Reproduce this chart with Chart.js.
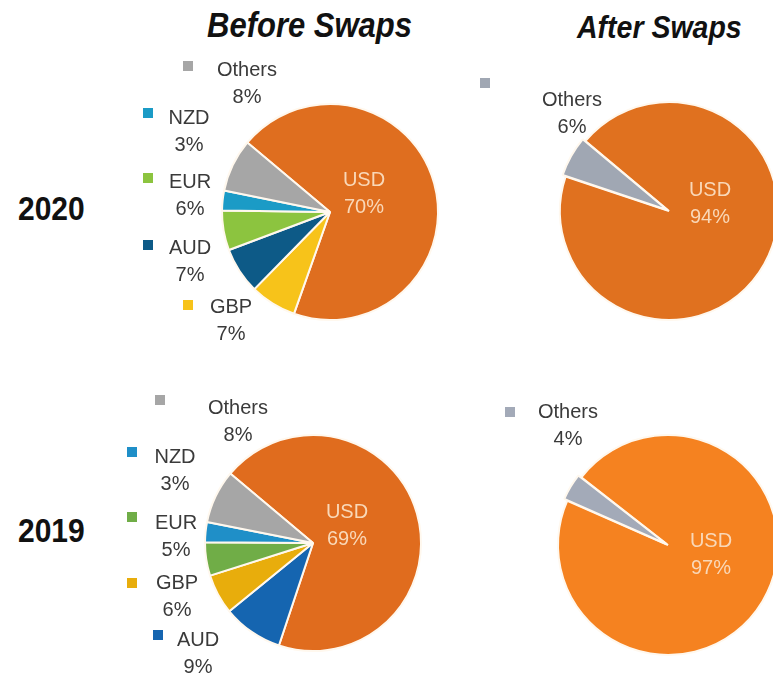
<!DOCTYPE html>
<html>
<head>
<meta charset="utf-8">
<script src="https://cdn.jsdelivr.net/npm/chart.js@4/dist/chart.umd.min.js"></script>
<style>
  html, body { margin: 0; padding: 0; background: #fff; }
  #page { position: relative; width: 773px; height: 678px; overflow: hidden; font-family: "Liberation Sans", Arial, sans-serif; }
  canvas { position: absolute; }
  .hdr { position: absolute; font-weight: bold; font-style: italic; color: #111; white-space: nowrap; transform-origin: left top; }
  .year { position: absolute; font-weight: bold; color: #111; font-size: 30px; transform: scaleY(1.1); transform-origin: left top; }
</style>
</head>
<body>
<div id="page">
  <div class="hdr" style="left:207px; top:6px; font-size:31px; transform:scaleY(1.12);">Before Swaps</div>
  <div class="hdr" style="left:577px; top:10px; font-size:28.5px; transform:scaleY(1.08);">After Swaps</div>
  <div class="year" style="left:18px; top:190px;">2020</div>
  <div class="year" style="left:18px; top:512px;">2019</div>

  <canvas id="pie2020b" width="400" height="360" style="left:130px; top:32px;"></canvas>
  <canvas id="pie2020a" width="400" height="360" style="left:469px; top:31px;"></canvas>
  <canvas id="pie2019b" width="400" height="360" style="left:113px; top:363px;"></canvas>
  <canvas id="pie2019a" width="400" height="360" style="left:468px; top:365px;"></canvas>
</div>
<script>
// shares (%)
const labels2020Before = ['USD', 'GBP', 'AUD', 'EUR', 'NZD', 'Others'];
const values2020Before = [70, 7, 7, 6, 3, 8];
const labels2019Before = ['USD', 'AUD', 'GBP', 'EUR', 'NZD', 'Others'];
const values2019Before = [69, 9, 6, 5, 3, 8];
const labelsAfter = ['USD', 'Others'];
const values2020After = [94, 6];
const values2019After = [97, 4];

const colors2020Before = ['#df6e1f', '#f7c31a', '#0d5a87', '#8cc43f', '#1b9bc6', '#a6a6a6'];
const colors2019Before = ['#e06c1e', '#1565b0', '#e8ad0c', '#70ad47', '#1f8fc8', '#a6a6a6'];
const colors2020After = ['#e0711f', '#a0a7b3'];
const colors2019After = ['#f58220', '#a3aab8'];

// label layout, offsets from the pie centre: name text centre and legend square
const layout2020Before = [
    { name: [34, -32], inside: true },
    { name: [-99, 95], sq: [-142, 93] },
    { name: [-140, 36], sq: [-182, 33] },
    { name: [-140, -30], sq: [-182, -34] },
    { name: [-141, -94], sq: [-182, -99] },
    { name: [-83, -142], sq: [-142, -146] }
];
const layout2019Before = [
    { name: [34, -31], inside: true },
    { name: [-115, 97], sq: [-155, 92] },
    { name: [-136, 40], sq: [-181, 40] },
    { name: [-137, -20], sq: [-181, -26] },
    { name: [-138, -86], sq: [-181, -91] },
    { name: [-75, -135], sq: [-153, -143] }
];
const layout2020After = [
    { name: [41, -21], inside: true },
    { name: [-97, -111], sq: [-184, -128] }
];
const layout2019After = [
    { name: [43, -4], inside: true },
    { name: [-100, -133], sq: [-158, -133] }
];

const sliceLabels = {
    id: 'sliceLabels',
    afterDatasetsDraw(chart, args, opts) {
        const meta = chart.getDatasetMeta(0);
        const ds = chart.data.datasets[0];
        const cx = meta.data[0].x;
        const cy = meta.data[0].y;
        const ctx = chart.ctx;
        ctx.save();
        ctx.font = '20px "Liberation Sans", Arial, sans-serif';
        ctx.textAlign = 'center';
        ctx.textBaseline = 'middle';
        opts.layout.forEach(function(l, i) {
            const x = cx + l.name[0];
            const y = cy + l.name[1];
            ctx.fillStyle = l.inside ? '#f9d8b8' : '#3a3a3a';
            ctx.fillText(chart.data.labels[i], x, y);
            ctx.fillText(ds.data[i] + '%', x, y + 27);
            if (l.sq) {
                ctx.fillStyle = ds.backgroundColor[i];
                ctx.fillRect(cx + l.sq[0] - 5, cy + l.sq[1] - 5, 10, 10);
            }
        });
        ctx.restore();
    }
};

function makePie(id, labels, values, colors, layout, radius, rotation, offsets) {
    return new Chart(document.getElementById(id), {
        type: 'pie',
        data: {
            labels: labels,
            datasets: [{
                data: values,
                backgroundColor: colors,
                borderColor: '#fff8ee',
                borderWidth: 2,
                offset: offsets
            }]
        },
        options: {
            responsive: false,
            animation: false,
            events: [],
            radius: radius,
            rotation: rotation,
            layout: { padding: 0 },
            plugins: {
                legend: { display: false },
                tooltip: { enabled: false },
                sliceLabels: { layout: layout }
            }
        },
        plugins: [sliceLabels]
    });
}

const chart2020Before = makePie('pie2020b', labels2020Before, values2020Before, colors2020Before, layout2020Before, 108, -50, 0);
const chart2020After = makePie('pie2020a', labelsAfter, values2020After, colors2020After, layout2020After, 109, -50, [0, 8]);
const chart2019Before = makePie('pie2019b', labels2019Before, values2019Before, colors2019Before, layout2019Before, 108, -50, 0);
const chart2019After = makePie('pie2019a', labelsAfter, values2019After, colors2019After, layout2019After, 110, -52, [0, 8]);
</script>
</body>
</html>
